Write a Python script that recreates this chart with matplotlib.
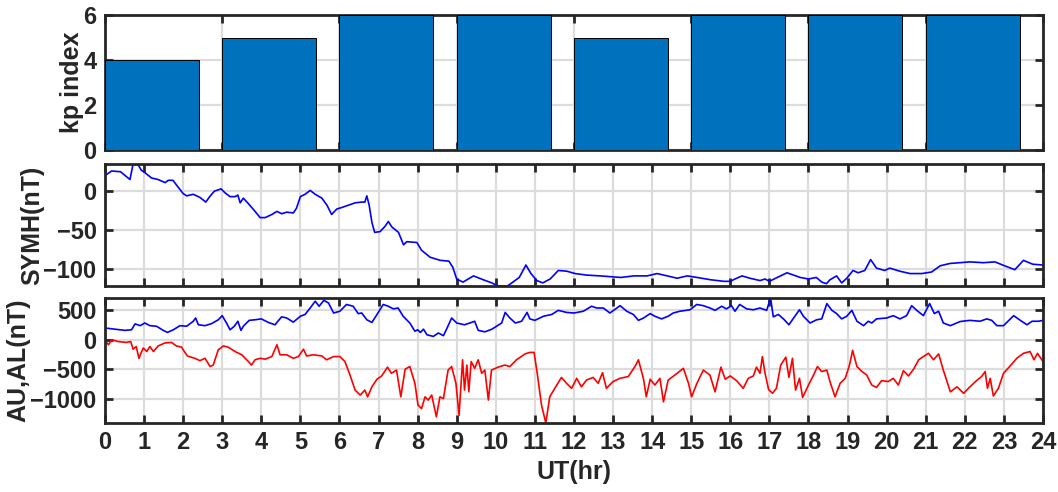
import numpy as np
import matplotlib
matplotlib.use("Agg")
import matplotlib.pyplot as plt

plt.rcParams["font.family"] = ["Liberation Sans Narrow", "Liberation Sans", "DejaVu Sans"]
plt.rcParams["font.weight"] = "bold"

AX_COLOR = "#262626"
GRID_COLOR = "#dcdcdc"

# 3-hourly Kp
kp_t = [0, 3, 6, 9, 12, 15, 18, 21]
kp = [4, 5, 6, 6, 5, 6, 6, 6]

# SYM-H (nT)
symh_t = [0.0, 0.17, 0.4, 0.64, 0.72, 0.85, 0.93, 1.02, 1.19, 1.36, 1.54, 1.62, 1.74, 1.83,
          2.0, 2.09, 2.26, 2.43, 2.58, 2.68, 2.8, 2.97, 3.07, 3.2, 3.33, 3.4, 3.46, 3.54,
          3.67, 3.84, 3.97, 4.1, 4.27, 4.4, 4.52, 4.65, 4.82, 4.9, 5.0, 5.12, 5.25, 5.38,
          5.55, 5.68, 5.8, 5.93, 6.06, 6.23, 6.4, 6.57, 6.65, 6.7, 6.76, 6.83, 6.9, 7.04,
          7.17, 7.25, 7.34, 7.51, 7.64, 7.72, 7.98, 8.1, 8.32, 8.58, 8.8, 8.9, 9.0, 9.16,
          9.43, 9.68, 9.9, 10.05, 10.3, 10.6, 10.77, 10.9, 11.05, 11.2, 11.39, 11.6, 11.82,
          12.03, 12.33, 12.67, 12.93, 13.2, 13.53, 13.87, 14.13, 14.38, 14.64, 14.9, 15.15,
          15.5, 15.84, 16.0, 16.12, 16.3, 16.5, 16.76, 16.89, 17.0, 17.12, 17.45, 17.62,
          17.79, 18.0, 18.2, 18.34, 18.46, 18.55, 18.72, 18.85, 18.98, 19.14, 19.27, 19.44,
          19.59, 19.74, 19.95, 20.08, 20.34, 20.6, 20.9, 21.15, 21.37, 21.62, 21.88, 22.13,
          22.47, 22.77, 23.07, 23.28, 23.5, 23.74, 24.0]
symh = [20, 26, 25, 15, 35, 34, 27, 24, 17, 15, 11, 14, 14, 8,
        -3, -6, -4, -8, -14, -7, 0, 3, -2, -7, -7, -5, -15, -9,
        -16, -26, -34, -34, -30, -26, -29, -27, -28, -22, -7, -4, 1, -4,
        -9, -18, -30, -23, -21, -18, -15, -14, -14, -6, -18, -40, -53, -52,
        -45, -39, -46, -53, -69, -65, -66, -76, -85, -89, -90, -98, -113, -117,
        -109, -114, -118, -122, -122, -111, -95, -106, -115, -118, -113, -102, -103,
        -106, -108, -109, -110, -111, -109, -109, -106, -109, -112, -109, -111,
        -114, -116, -116, -113, -109, -112, -115, -113, -116, -113, -105, -108,
        -111, -113, -111, -117, -119, -114, -109, -118, -112, -102, -105, -102,
        -88, -99, -102, -99, -103, -106, -106, -104, -96, -93, -92, -91,
        -92, -91, -97, -101, -89, -94, -95]

# AU (nT)
au_t = [0.0, 0.26, 0.51, 0.68, 0.77, 0.9, 1.02, 1.15, 1.32, 1.49, 1.6, 1.75, 1.92, 2.09,
        2.26, 2.32, 2.39, 2.56, 2.73, 2.9, 3.0, 3.11, 3.2, 3.31, 3.4, 3.48, 3.54, 3.69,
        3.84, 4.0, 4.18, 4.35, 4.52, 4.65, 4.82, 5.0, 5.12, 5.25, 5.38, 5.48, 5.6, 5.72,
        5.85, 6.01, 6.18, 6.35, 6.48, 6.57, 6.7, 6.83, 6.96, 7.12, 7.25, 7.38, 7.5, 7.63,
        7.8, 7.93, 8.0, 8.07, 8.15, 8.24, 8.4, 8.53, 8.66, 8.74, 8.87, 9.0, 9.2, 9.38,
        9.46, 9.55, 9.72, 9.9, 10.04, 10.15, 10.24, 10.36, 10.5, 10.66, 10.8, 10.87, 11.0,
        11.22, 11.43, 11.6, 11.81, 12.0, 12.24, 12.45, 12.58, 12.75, 12.92, 13.18, 13.35,
        13.52, 13.65, 13.78, 13.95, 14.07, 14.24, 14.41, 14.54, 14.71, 14.97, 15.14, 15.31,
        15.48, 15.61, 15.78, 15.9, 16.03, 16.12, 16.24, 16.42, 16.59, 16.76, 16.93, 17.03,
        17.1, 17.23, 17.36, 17.5, 17.62, 17.77, 17.87, 18.04, 18.21, 18.34, 18.47, 18.6,
        18.72, 18.85, 18.98, 19.11, 19.24, 19.41, 19.53, 19.62, 19.74, 20.0, 20.17, 20.34,
        20.51, 20.64, 20.77, 20.94, 21.1, 21.22, 21.33, 21.45, 21.63, 21.88, 22.13, 22.39,
        22.56, 22.69, 22.82, 22.99, 23.25, 23.42, 23.59, 23.72, 23.89, 24.0]
au = [200, 180, 160, 170, 270, 240, 285, 240, 230, 160, 125, 170, 240, 230,
      315, 370, 255, 240, 275, 340, 410, 285, 170, 230, 315, 160, 230, 330,
      340, 355, 295, 255, 390, 370, 300, 400, 430, 540, 655, 570, 670, 625,
      455, 485, 600, 570, 445, 455, 340, 295, 430, 600, 570, 525, 540, 400,
      285, 145, 170, 125, 180, 85, 57, 115, 70, 180, 370, 285, 255, 295,
      315, 160, 135, 180, 240, 285, 465, 370, 285, 315, 465, 355, 330,
      400, 430, 500, 465, 455, 485, 570, 540, 540, 455, 580, 485,
      430, 330, 370, 445, 400, 355, 400, 455, 485, 510, 600, 580,
      540, 500, 570, 525, 580, 485, 600, 525, 510, 540, 500, 710,
      390, 430, 355, 255, 370, 510, 400, 285, 340, 355, 615, 500,
      445, 355, 400, 500, 315, 240, 315, 285, 355, 370, 410, 355,
      410, 580, 500, 410, 615, 445, 485, 285, 240, 310, 330, 315,
      355, 330, 240, 240, 410, 330, 255, 315, 315, 330]

# AL (nT)
al_t = [0.0, 0.09, 0.17, 0.34, 0.55, 0.66, 0.72, 0.8, 0.87, 0.92, 0.98, 1.07, 1.15, 1.24,
        1.36, 1.53, 1.7, 1.83, 1.96, 2.03, 2.11, 2.3, 2.43, 2.56, 2.69, 2.77, 2.9, 3.03,
        3.15, 3.33, 3.5, 3.67, 3.75, 3.84, 3.97, 4.1, 4.27, 4.4, 4.48, 4.65, 4.82, 4.95,
        5.08, 5.16, 5.33, 5.55, 5.67, 5.85, 6.01, 6.14, 6.27, 6.4, 6.53, 6.65, 6.72, 6.83,
        6.96, 7.08, 7.23, 7.33, 7.46, 7.57, 7.68, 7.8, 7.93, 8.01, 8.1, 8.19, 8.27, 8.36,
        8.48, 8.57, 8.66, 8.78, 8.87, 8.98, 9.06, 9.15, 9.2, 9.26, 9.31, 9.37, 9.46, 9.55,
        9.64, 9.72, 9.81, 9.89, 10.06, 10.23, 10.36, 10.53, 10.75, 10.87, 10.98, 11.06,
        11.17, 11.28, 11.38, 11.51, 11.68, 11.81, 11.94, 12.07, 12.19, 12.32, 12.49, 12.62,
        12.73, 12.83, 13.0, 13.18, 13.39, 13.56, 13.65, 13.78, 13.85, 13.95, 14.07, 14.2,
        14.29, 14.41, 14.58, 14.8, 14.93, 15.01, 15.14, 15.31, 15.48, 15.61, 15.76, 15.87,
        16.0, 16.16, 16.33, 16.46, 16.59, 16.67, 16.76, 16.82, 16.89, 16.98, 17.08, 17.18,
        17.29, 17.42, 17.5, 17.59, 17.67, 17.77, 17.85, 18.0, 18.13, 18.23, 18.34, 18.47,
        18.55, 18.68, 18.81, 18.94, 19.05, 19.13, 19.24, 19.37, 19.49, 19.62, 19.74, 19.87,
        20.04, 20.17, 20.3, 20.43, 20.56, 20.69, 20.82, 20.94, 21.07, 21.2, 21.33, 21.45,
        21.63, 21.8, 21.97, 22.13, 22.3, 22.43, 22.52, 22.58, 22.65, 22.73, 22.86, 22.99,
        23.16, 23.33, 23.5, 23.67, 23.77, 23.86, 24.0]
al = [-10, -85, 0, -30, -45, -30, -160, -115, -315, -230, -140, -200, -115, -200,
      -105, -55, -45, -105, -125, -200, -275, -315, -355, -315, -455, -430, -170, -105,
      -125, -200, -255, -370, -430, -340, -315, -330, -285, -85, -255, -255, -315, -285,
      -160, -275, -255, -275, -340, -285, -285, -370, -600, -855, -940, -855, -970, -800,
      -670, -615, -465, -570, -515, -970, -500, -455, -740, -1110, -1170, -970, -1025, -940,
      -1310, -970, -1000, -515, -455, -740, -1285, -340, -855, -430, -885, -370, -485, -340,
      -570, -515, -1025, -515, -465, -430, -455, -340, -240, -215, -215, -570,
      -1110, -1415, -970, -825, -640, -740, -825, -655, -800, -685, -640, -740,
      -560, -825, -710, -655, -625, -455, -340, -670, -970, -670, -770, -655,
      -1055, -685, -600, -485, -740, -970, -750, -515, -600, -885, -465, -670,
      -615, -695, -825, -655, -615, -465, -570, -285, -570, -845, -910, -825,
      -430, -295, -640, -315, -855, -655, -980, -770, -600, -455, -540, -515,
      -710, -970, -740, -655, -430, -180, -455, -540, -600, -770, -810, -695,
      -710, -655, -770, -525, -615, -500, -340, -285, -230, -340, -240, -515,
      -885, -800, -910, -800, -695, -625, -540, -825, -655, -955, -825, -570,
      -445, -315, -230, -200, -340, -230, -370]

hours = np.arange(0, 25)

fig = plt.figure(figsize=(10.58, 4.92), dpi=100)
left, width = 0.0992, 0.8866
ax_kp = fig.add_axes([left, 0.6951, width, 0.2744])
ax_sym = fig.add_axes([left, 0.4187, width, 0.2480])
ax_ae = fig.add_axes([left, 0.1402, width, 0.2541])


def style(ax):
    ax.set_xlim(0, 24)
    ax.set_axisbelow(True)
    ax.grid(True, color=GRID_COLOR, linewidth=1.6)
    for s in ax.spines.values():
        s.set_linewidth(2.0)
        s.set_color(AX_COLOR)
    ax.tick_params(direction="in", length=6, width=2, top=True, right=True,
                   colors=AX_COLOR, labelsize=17, pad=6)
    for lab in ax.get_xticklabels() + ax.get_yticklabels():
        lab.set_fontweight("bold")


# Kp bars
ax_kp.bar(kp_t, kp, width=2.4, align="edge", color="#0072BD",
          edgecolor="black", linewidth=0.7, zorder=3)
ax_kp.set_ylim(0, 6)
ax_kp.set_yticks([0, 2, 4, 6])
ax_kp.set_xticks(np.arange(0, 25, 3))
ax_kp.set_xticklabels([])
style(ax_kp)
ax_kp.set_ylabel("kp index", fontsize=18, fontweight="bold", color=AX_COLOR)
ax_kp.yaxis.set_label_coords(-0.022, 0.5)

# SYM-H
ax_sym.plot(symh_t, symh, color="b", linewidth=1.2)
ax_sym.set_ylim(min(symh), max(symh))
ax_sym.set_yticks([-100, -50, 0])
ax_sym.set_xticks(hours)
ax_sym.set_xticklabels([])
style(ax_sym)
ax_sym.set_ylabel("SYMH(nT)", fontsize=18, fontweight="bold", color=AX_COLOR)
ax_sym.yaxis.set_label_coords(-0.065, 0.5)

# AU / AL
ax_ae.plot(au_t, au, color="b", linewidth=1.2)
ax_ae.plot(al_t, al, color="r", linewidth=1.2)
ax_ae.set_ylim(min(al), max(au))
ax_ae.set_yticks([-1000, -500, 0, 500])
ax_ae.set_xticks(hours)
ax_ae.set_xticklabels([str(h) for h in hours])
style(ax_ae)
ax_ae.set_ylabel("AU,AL(nT)", fontsize=18, fontweight="bold", color=AX_COLOR)
ax_ae.yaxis.set_label_coords(-0.080, 0.5)
ax_ae.set_xlabel("UT(hr)", fontsize=18, fontweight="bold", color=AX_COLOR, labelpad=4)

fig.savefig("out.png", dpi=100)
